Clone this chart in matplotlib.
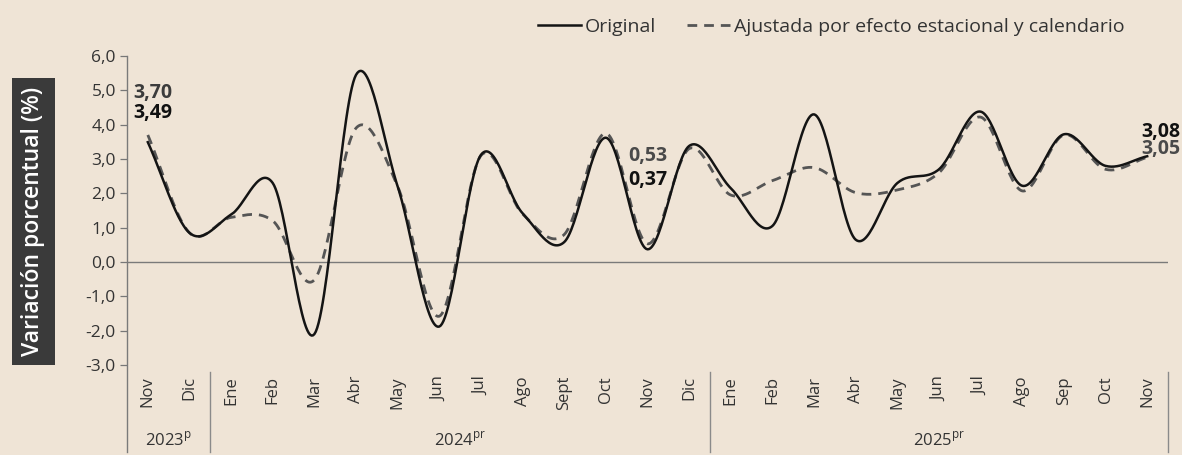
import numpy as np
import matplotlib
matplotlib.use("Agg")
import matplotlib.pyplot as plt
from matplotlib.lines import Line2D

# ---------------- data ----------------
months = ["Nov", "Dic",
          "Ene", "Feb", "Mar", "Abr", "May", "Jun", "Jul", "Ago", "Sept", "Oct", "Nov", "Dic",
          "Ene", "Feb", "Mar", "Abr", "May", "Jun", "Jul", "Ago", "Sep", "Oct", "Nov"]
years = ["2023$^{\\mathregular{p}}$", "2024$^{\\mathregular{pr}}$", "2025$^{\\mathregular{pr}}$"]
year_spans = [(0, 1), (2, 13), (14, 24)]

original = [3.49, 0.85,
            1.38, 2.30, -2.10, 5.45, 2.20, -1.88, 3.12, 1.42, 0.58, 3.62, 0.37, 3.38,
            2.15, 1.05, 4.30, 0.65, 2.30, 2.70, 4.38, 2.22, 3.72, 2.80, 3.08]
ajustada = [3.70, 0.85,
            1.30, 1.20, -0.52, 3.90, 2.20, -1.58, 3.10, 1.40, 0.80, 3.75, 0.53, 3.30,
            1.95, 2.37, 2.75, 2.02, 2.10, 2.60, 4.22, 2.07, 3.70, 2.70, 3.05]

yticks = [6, 5, 4, 3, 2, 1, 0, -1, -2, -3]
ytick_labels = ["6,0", "5,0", "4,0", "3,0", "2,0", "1,0", "0,0", "-1,0", "-2,0", "-3,0"]


def catmull_rom(x, y, n=30):
    x = np.asarray(x, float)
    y = np.asarray(y, float)
    px = np.concatenate([[2 * x[0] - x[1]], x, [2 * x[-1] - x[-2]]])
    py = np.concatenate([[2 * y[0] - y[1]], y, [2 * y[-1] - y[-2]]])
    xs, ys = [], []
    N = len(x)
    for i in range(N - 1):
        p0x, p1x, p2x, p3x = px[i:i + 4]
        p0y, p1y, p2y, p3y = py[i:i + 4]
        t = np.linspace(0, 1, n, endpoint=(i == N - 2))
        t2, t3 = t * t, t * t * t
        for (a0, a1, a2, a3, out) in ((p0x, p1x, p2x, p3x, xs), (p0y, p1y, p2y, p3y, ys)):
            out.append(0.5 * ((2 * a1) + (-a0 + a2) * t + (2 * a0 - 5 * a1 + 4 * a2 - a3) * t2
                              + (-a0 + 3 * a1 - 3 * a2 + a3) * t3))
    return np.concatenate(xs), np.concatenate(ys)


W, H = 1182, 455
bg = "#efe4d6"
fig = plt.figure(figsize=(W / 100, H / 100), dpi=100, facecolor=bg)
plt.rcParams["font.family"] = ["Open Sans", "DejaVu Sans"]

ax_left, ax_right = 127, 1168
ax_top, ax_bot = 56, 365
ax = fig.add_axes([ax_left / W, 1 - ax_bot / H, (ax_right - ax_left) / W, (ax_bot - ax_top) / H])
ax.set_facecolor("none")

x = np.arange(len(months))
xs, ys_o = catmull_rom(x, original)
xa, ys_a = catmull_rom(x, ajustada)

ax.axhline(0, color="#7a7a7a", lw=1.0, zorder=1)
ax.plot(xa, ys_a, color="#555555", lw=2.0, ls=(0, (3.5, 2.5)), zorder=2, clip_on=False)
ax.plot(xs, ys_o, color="#141414", lw=1.8, zorder=3, clip_on=False)

ax.set_xlim(-0.5, 24.5)
ax.set_ylim(-3, 6)

for s in ["top", "right", "bottom", "left"]:
    ax.spines[s].set_visible(False)

ax.set_yticks(yticks)
ax.set_yticklabels(ytick_labels, fontsize=12.5, color="#333333")
ax.tick_params(axis="y", length=5, width=0.9, color="#777777", pad=3)

ax.set_xticks(x)
ax.set_xticklabels(months, rotation=90, fontsize=12, color="#333333", va="top")
ax.tick_params(axis="x", length=0, pad=8)

ax_h = ax_bot - ax_top
def yfrac(py):
    return (ax_bot - py) / ax_h

ax.plot([-0.5, -0.5], [yfrac(56), yfrac(452)], transform=ax.get_xaxis_transform(),
        color="#7a7a7a", lw=1.0, clip_on=False)
for sx in [1.5, 13.5, 24.5]:
    ax.plot([sx, sx], [yfrac(372), yfrac(452)], transform=ax.get_xaxis_transform(),
            color="#8a8a8a", lw=1.0, clip_on=False)

for label, (a, b) in zip(years, year_spans):
    ax.text((a + b) / 2, yfrac(440), label, transform=ax.get_xaxis_transform(),
            ha="center", va="center", fontsize=12, color="#333333")

# data labels
lab_kw = dict(fontsize=14, fontweight="bold", va="center")
ax.text(-0.36, 4.93, "3,70", color="#3c3c3c", ha="left", **lab_kw)
ax.text(-0.36, 4.34, "3,49", color="#111111", ha="left", **lab_kw)
ax.text(11.53, 3.08, "0,53", color="#4a4a4a", ha="left", **lab_kw)
ax.text(11.53, 2.38, "0,37", color="#111111", ha="left", **lab_kw)
ax.text(24.79, 3.80, "3,08", color="#111111", ha="right", **lab_kw)
ax.text(24.79, 3.28, "3,05", color="#4a4a4a", ha="right", **lab_kw)

# y label box
fig.text(33.5 / W, 1 - 221.5 / H, "Variación porcentual (%)", rotation=90,
         ha="center", va="center", color="white", fontsize=16.5, fontweight="semibold",
         bbox=dict(facecolor="#3a3a3a", edgecolor="none", boxstyle="square,pad=0.4"))

# legend
handles = [Line2D([], [], color="#141414", lw=1.8),
           Line2D([], [], color="#555555", lw=2.0, ls=(0, (3.5, 2.5)))]
fig.legend(handles, ["Original", "Ajustada por efecto estacional y calendario"],
           loc="center right", bbox_to_anchor=(1142 / W, 1 - 27 / H), ncol=2,
           frameon=False, fontsize=14, handlelength=2.2, handletextpad=0.2,
           columnspacing=1.6, labelcolor="#333333")

fig.savefig("out.png", dpi=100, facecolor=bg)
